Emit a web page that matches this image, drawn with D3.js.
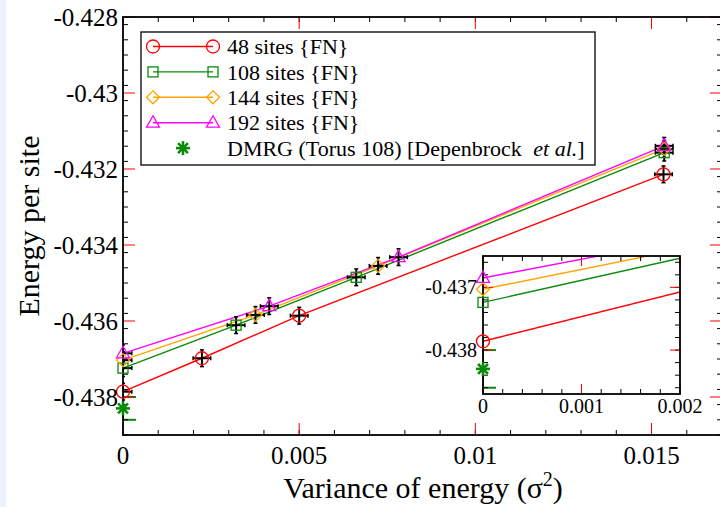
<!DOCTYPE html>
<html>
<head>
<meta charset="utf-8">
<script src="https://cdn.jsdelivr.net/npm/d3@7"></script>
<style>
  body { margin: 0; background: #fff; }
  text { font-family: "Liberation Serif", "Times New Roman", serif; fill: #000; }
</style>
</head>
<body>
<div id="chart"></div>
<script>
// data
var series = ["48 sites {FN}", "108 sites {FN}", "144 sites {FN}", "192 sites {FN}"];
var var48 = [0, 0.00224, 0.0050, 0.01534];
var en48 = [-0.43786, -0.43698, -0.43586, -0.43214];
var var108 = [0, 0.00321, 0.00662, 0.01536];
var en108 = [-0.43724, -0.43611, -0.43485, -0.43157];
var var144 = [0, 0.00376, 0.00724, 0.01536];
var en144 = [-0.43703, -0.43584, -0.43455, -0.43147];
var var192 = [0, 0.00415, 0.00782, 0.01536];
var en192 = [-0.43685, -0.43561, -0.43432, -0.43139];
var errX = 0.00025, errY = 0.00022;
var dmrgLabel = "DMRG (Torus 108) [Depenbrock ";
var dmrgX = 0, dmrgE = -0.4383, dmrgErr = 0.0003;

var xTicks = [0, 0.005, 0.01, 0.015];
var xTickLabels = ["0", "0.005", "0.01", "0.015"];
var yTicks = [-0.428, -0.43, -0.432, -0.434, -0.436, -0.438];
var yTickLabels = ["-0.428", "-0.43", "-0.432", "-0.434", "-0.436", "-0.438"];
var insetXTicks = [0, 0.001, 0.002];
var insetXTickLabels = ["0", "0.001", "0.002"];
var insetYTicks = [-0.437, -0.438];
var insetYTickLabels = ["-0.437", "-0.438"];

var colors = ["#ff0000", "#0a8a0a", "#ffa500", "#ff00ff"];
var shapes = ["circle", "square", "diamond", "triangle"];
var allX = [var48, var108, var144, var192];
var allE = [en48, en108, en144, en192];

var svgWidth = 720, svgHeight = 507;
var svg = d3.select("#chart").append("svg")
  .attr("width", svgWidth)
  .attr("height", svgHeight);

// light strip on the left edge
svg.append("rect").attr("x", 0).attr("y", 0).attr("width", 6).attr("height", svgHeight).attr("fill", "#eaf3fb");

var xScale = d3.scaleLinear().domain([0, 0.017]).range([123, 722]);
var yScale = d3.scaleLinear().domain([-0.439, -0.428]).range([435, 17]);

var defs = svg.append("defs");
defs.append("clipPath").attr("id", "mainClip").append("rect")
  .attr("x", 123).attr("y", 17).attr("width", 599).attr("height", 418);

function drawMarker(g, shape, cx, cy, color) {
  if (shape === "circle") {
    g.append("circle").attr("cx", cx).attr("cy", cy).attr("r", 6.5)
      .attr("fill", "none").attr("stroke", color).attr("stroke-width", 1.3);
  } else if (shape === "square") {
    g.append("rect").attr("x", cx - 5).attr("y", cy - 5).attr("width", 10).attr("height", 10)
      .attr("fill", "none").attr("stroke", color).attr("stroke-width", 1.3);
  } else if (shape === "diamond") {
    g.append("path").attr("d", `M${cx},${cy - 6.5}L${cx + 6.5},${cy}L${cx},${cy + 6.5}L${cx - 6.5},${cy}Z`)
      .attr("fill", "none").attr("stroke", color).attr("stroke-width", 1.3);
  } else if (shape === "triangle") {
    g.append("path").attr("d", `M${cx},${cy - 7}L${cx + 6.5},${cy + 4.5}L${cx - 6.5},${cy + 4.5}Z`)
      .attr("fill", "none").attr("stroke", color).attr("stroke-width", 1.3);
  } else if (shape === "star") {
    [0, 45, 90, 135].forEach(function(a) {
      var r = a * Math.PI / 180;
      g.append("line")
        .attr("x1", cx - 7 * Math.cos(r)).attr("y1", cy - 7 * Math.sin(r))
        .attr("x2", cx + 7 * Math.cos(r)).attr("y2", cy + 7 * Math.sin(r))
        .attr("stroke", color).attr("stroke-width", 2.6);
    });
  }
}

// frame with ticks on all four sides
function drawFrame(g, xs, ys, xMajor, xMinor, yMajor, yMinor, majLen, minLen) {
  var x0 = xs.range()[0], x1 = xs.range()[1];
  var y0 = ys.range()[1], y1 = ys.range()[0];
  xMinor.forEach(function(t) {
    var px = xs(t);
    g.append("line").attr("x1", px).attr("x2", px).attr("y1", y1).attr("y2", y1 - minLen).attr("stroke", "#000");
    g.append("line").attr("x1", px).attr("x2", px).attr("y1", y0).attr("y2", y0 + minLen).attr("stroke", "#000");
  });
  yMinor.forEach(function(t) {
    var py = ys(t);
    g.append("line").attr("x1", x0).attr("x2", x0 + minLen).attr("y1", py).attr("y2", py).attr("stroke", "#000");
    g.append("line").attr("x1", x1).attr("x2", x1 - minLen).attr("y1", py).attr("y2", py).attr("stroke", "#000");
  });
  xMajor.forEach(function(t) {
    var px = xs(t);
    g.append("line").attr("x1", px).attr("x2", px).attr("y1", y1).attr("y2", y1 - majLen).attr("stroke", "#ff0000");
    g.append("line").attr("x1", px).attr("x2", px).attr("y1", y0).attr("y2", y0 + majLen).attr("stroke", "#ff0000");
  });
  yMajor.forEach(function(t) {
    var py = ys(t);
    g.append("line").attr("x1", x0).attr("x2", x0 + majLen).attr("y1", py).attr("y2", py).attr("stroke", "#ff0000");
    g.append("line").attr("x1", x1).attr("x2", x1 - majLen).attr("y1", py).attr("y2", py).attr("stroke", "#ff0000");
  });
  g.append("rect").attr("x", x0).attr("y", y0).attr("width", x1 - x0).attr("height", y1 - y0)
    .attr("fill", "none").attr("stroke", "#000").attr("stroke-width", 1.8);
}

var mainG = svg.append("g");

// lines
var line = d3.line().x(d => xScale(d[0])).y(d => yScale(d[1]));
allX.forEach(function(xs, i) {
  var pts = xs.map((v, j) => [v, allE[i][j]]);
  mainG.append("path").datum(pts).attr("d", line)
    .attr("fill", "none").attr("stroke", colors[i]).attr("stroke-width", 1.4);
});

// error bars (black crosses with small caps)
var errG = mainG.append("g").attr("clip-path", "url(#mainClip)");
allX.forEach(function(xs, i) {
  xs.forEach(function(v, j) {
    var px = xScale(v), py = yScale(allE[i][j]);
    var xl = xScale(v - errX), xr = xScale(v + errX);
    var yt = yScale(allE[i][j] + errY), yb = yScale(allE[i][j] - errY);
    errG.append("line").attr("x1", xl).attr("x2", xr).attr("y1", py).attr("y2", py).attr("stroke", "#000").attr("stroke-width", 2);
    errG.append("line").attr("x1", px).attr("x2", px).attr("y1", yt).attr("y2", yb).attr("stroke", "#000").attr("stroke-width", 2);
    errG.append("line").attr("x1", xl).attr("x2", xl).attr("y1", py - 2).attr("y2", py + 2).attr("stroke", "#000").attr("stroke-width", 1.5);
    errG.append("line").attr("x1", xr).attr("x2", xr).attr("y1", py - 2).attr("y2", py + 2).attr("stroke", "#000").attr("stroke-width", 1.5);
    errG.append("line").attr("x1", px - 2).attr("x2", px + 2).attr("y1", yt).attr("y2", yt).attr("stroke", "#000").attr("stroke-width", 1.5);
    errG.append("line").attr("x1", px - 2).attr("x2", px + 2).attr("y1", yb).attr("y2", yb).attr("stroke", "#000").attr("stroke-width", 1.5);
  });
});

// DMRG error bar
function drawDmrgBar(g, xs, ys) {
  var px = xs(dmrgX);
  var yt = ys(dmrgE + dmrgErr), yb = ys(dmrgE - dmrgErr);
  g.append("line").attr("x1", px).attr("x2", px).attr("y1", yt).attr("y2", yb).attr("stroke", "#0a8a0a").attr("stroke-width", 2);
  g.append("line").attr("x1", px - 13).attr("x2", px + 13).attr("y1", yt).attr("y2", yt).attr("stroke", "#0a8a0a").attr("stroke-width", 2);
  g.append("line").attr("x1", px - 13).attr("x2", px + 13).attr("y1", yb).attr("y2", yb).attr("stroke", "#0a8a0a").attr("stroke-width", 2);
}
drawDmrgBar(errG, xScale, yScale);

// frame
drawFrame(mainG, xScale, yScale, xTicks, d3.range(0, 0.0171, 0.001),
  yTicks, d3.range(-0.439, -0.4279, 0.0004), 12, 5);

// markers
allX.forEach(function(xs, i) {
  xs.forEach(function(v, j) {
    drawMarker(mainG, shapes[i], xScale(v), yScale(allE[i][j]), colors[i]);
  });
});
drawMarker(mainG, "star", xScale(dmrgX), yScale(dmrgE), "#0a8a0a");

// tick labels
xTicks.forEach(function(t, i) {
  svg.append("text").attr("x", xScale(t)).attr("y", 464).attr("text-anchor", "middle")
    .attr("font-size", 25).text(xTickLabels[i]);
});
yTicks.forEach(function(t, i) {
  svg.append("text").attr("x", 118).attr("y", yScale(t)).attr("dy", "0.35em").attr("text-anchor", "end")
    .attr("font-size", 25).text(yTickLabels[i]);
});

// axis titles
var xTitle = svg.append("text").attr("x", 423).attr("y", 498).attr("text-anchor", "middle").attr("font-size", 30);
xTitle.append("tspan").text("Variance of energy (σ");
xTitle.append("tspan").attr("font-size", 20).attr("dy", -12).text("2");
xTitle.append("tspan").attr("dy", 12).text(")");
svg.append("text").attr("transform", "translate(39,226) rotate(-90)").attr("text-anchor", "middle")
  .attr("font-size", 30).text("Energy per site");

// legend
var legend = svg.append("g");
legend.append("rect").attr("x", 141).attr("y", 32).attr("width", 454).attr("height", 133)
  .attr("fill", "#fff").attr("stroke", "#000").attr("stroke-width", 1.3);
series.forEach(function(name, i) {
  var ly = 46.5 + i * 25.4;
  legend.append("line").attr("x1", 153).attr("x2", 213).attr("y1", ly).attr("y2", ly)
    .attr("stroke", colors[i]).attr("stroke-width", 1.4);
  drawMarker(legend, shapes[i], 153, ly, colors[i]);
  drawMarker(legend, shapes[i], 213, ly, colors[i]);
  legend.append("text").attr("x", 227).attr("y", ly).attr("dy", "0.35em").attr("font-size", 22).text(name);
});
var dy5 = 46.5 + 4 * 25.4;
drawMarker(legend, "star", 183, dy5, "#0a8a0a");
var dt = legend.append("text").attr("x", 227).attr("y", dy5).attr("dy", "0.35em").attr("font-size", 22);
dt.append("tspan").text(dmrgLabel);
dt.append("tspan").attr("dx", 6).attr("font-style", "italic").text("et al.");
dt.append("tspan").text("]");

// inset
var ixScale = d3.scaleLinear().domain([0, 0.002]).range([483, 680]);
var iyScale = d3.scaleLinear().domain([-0.4387, -0.4365]).range([394, 256]);
defs.append("clipPath").attr("id", "insetClip").append("rect")
  .attr("x", 483).attr("y", 256).attr("width", 197).attr("height", 138);

var inset = svg.append("g");
inset.append("rect").attr("x", 483).attr("y", 256).attr("width", 197).attr("height", 138).attr("fill", "#fff");
var iClip = inset.append("g").attr("clip-path", "url(#insetClip)");
var iline = d3.line().x(d => ixScale(d[0])).y(d => iyScale(d[1]));
allX.forEach(function(xs, i) {
  var pts = xs.map((v, j) => [v, allE[i][j]]);
  iClip.append("path").datum(pts).attr("d", iline)
    .attr("fill", "none").attr("stroke", colors[i]).attr("stroke-width", 1.4);
});
drawDmrgBar(iClip, ixScale, iyScale);
drawFrame(inset, ixScale, iyScale, insetXTicks, d3.range(0, 0.00201, 0.0002),
  insetYTicks, d3.range(-0.4386, -0.43649, 0.0002), 10, 5);
allX.forEach(function(xs, i) {
  drawMarker(inset, shapes[i], ixScale(xs[0]), iyScale(allE[i][0]), colors[i]);
});
drawMarker(inset, "star", ixScale(dmrgX), iyScale(dmrgE), "#0a8a0a");

insetXTicks.forEach(function(t, i) {
  inset.append("text").attr("x", ixScale(t)).attr("y", 413).attr("text-anchor", "middle")
    .attr("font-size", 20).text(insetXTickLabels[i]);
});
insetYTicks.forEach(function(t, i) {
  inset.append("text").attr("x", 477).attr("y", iyScale(t)).attr("dy", "0.35em").attr("text-anchor", "end")
    .attr("font-size", 20).text(insetYTickLabels[i]);
});
</script>
</body>
</html>
